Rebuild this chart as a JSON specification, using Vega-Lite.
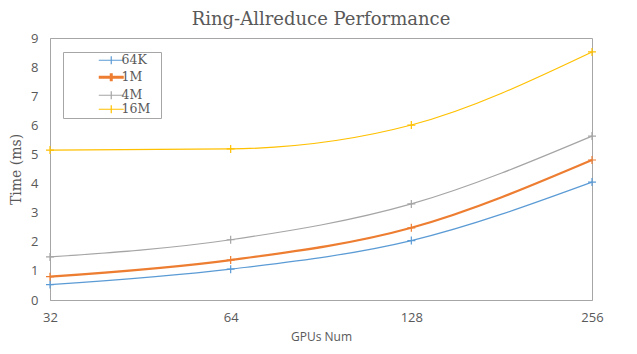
{
  "$schema": "https://vega.github.io/schema/vega-lite/v6.json",
  "width": 542,
  "height": 262,
  "autosize": {"type": "none"},
  "padding": {"left": 50, "top": 38, "right": 45, "bottom": 54},
  "background": "white",
  "title": {
    "text": "Ring-Allreduce Performance",
    "font": "DejaVu Serif",
    "fontSize": 18,
    "fontWeight": "normal",
    "color": "#595959",
    "anchor": "middle",
    "offset": 3
  },
  "config": {
    "view": {"stroke": "#A6A6A6", "strokeWidth": 1},
    "axis": {
      "grid": false,
      "ticks": false,
      "domainColor": "#A6A6A6",
      "labelFont": "Open Sans",
      "labelFontSize": 13,
      "labelColor": "#595959",
      "titleColor": "#595959",
      "titleFontWeight": "normal"
    }
  },
  "data": {
    "values": [
      {"series": "64K", "gpus": 32, "time": 0.53},
      {"series": "64K", "gpus": 64, "time": 1.06},
      {"series": "64K", "gpus": 128, "time": 2.04},
      {"series": "64K", "gpus": 256, "time": 4.05},
      {"series": "1M", "gpus": 32, "time": 0.8},
      {"series": "1M", "gpus": 64, "time": 1.37},
      {"series": "1M", "gpus": 128, "time": 2.48},
      {"series": "1M", "gpus": 256, "time": 4.81},
      {"series": "4M", "gpus": 32, "time": 1.48},
      {"series": "4M", "gpus": 64, "time": 2.07},
      {"series": "4M", "gpus": 128, "time": 3.3},
      {"series": "4M", "gpus": 256, "time": 5.63},
      {"series": "16M", "gpus": 32, "time": 5.15},
      {"series": "16M", "gpus": 64, "time": 5.19},
      {"series": "16M", "gpus": 128, "time": 6.01},
      {"series": "16M", "gpus": 256, "time": 8.52}
    ]
  },
  "encoding": {
    "x": {
      "field": "gpus",
      "type": "quantitative",
      "scale": {"type": "log", "base": 2, "domain": [32, 256], "nice": false},
      "axis": {"values": [32, 64, 128, 256], "title": "GPUs Num", "titleFont": "Open Sans", "titleFontSize": 12, "labelPadding": 11, "titlePadding": 7, "labelFlush": false}
    },
    "y": {
      "field": "time",
      "type": "quantitative",
      "scale": {"domain": [0, 9], "nice": false},
      "axis": {"values": [0,1,2,3,4,5,6,7,8,9], "title": "Time (ms)", "titleFont": "DejaVu Serif", "titleFontSize": 14, "labelPadding": 12, "titlePadding": 7}
    },
    "color": {
      "field": "series",
      "type": "nominal",
      "scale": {"domain": ["64K", "1M", "4M", "16M"], "range": ["#5B9BD5", "#ED7D31", "#A5A5A5", "#FFC000"]},
      "legend": {
        "title": "__",
        "titleOrient": "right",
        "titleColor": "transparent",
        "titleFontSize": 8,
        "titlePadding": 0,
        "orient": "none",
        "legendX": 13,
        "legendY": 14,
        "symbolType": "M-2,0H2M0,-0.64V0.64",
        "symbolSize": 156,
        "symbolStrokeWidth": 1.2,
        "symbolOffset": 40,
        "labelFont": "DejaVu Serif",
        "labelFontSize": 12.5,
        "labelColor": "#595959",
        "labelOffset": 2,
        "rowPadding": 0,
        "padding": 2,
        "strokeColor": "#A6A6A6",
        "fillColor": "white",
        "encode": {
          "symbols": {"update": {"strokeWidth": {"signal": "datum.value === '1M' ? 3 : 1.2"}}},
          "labels": {"update": {"dx": {"value": 2}}}
        }
      }
    }
  },
  "layer": [
    {
      "mark": {"type": "line", "interpolate": "monotone"},
      "encoding": {
        "strokeWidth": {
          "condition": {"test": "datum.series === '1M'", "value": 2.2},
          "value": 1.2
        }
      }
    },
    {
      "mark": {"type": "point", "filled": false, "shape": "M-1,0H1M0,-1V1", "size": 64, "strokeWidth": 1.2, "opacity": 1}
    }
  ]
}
